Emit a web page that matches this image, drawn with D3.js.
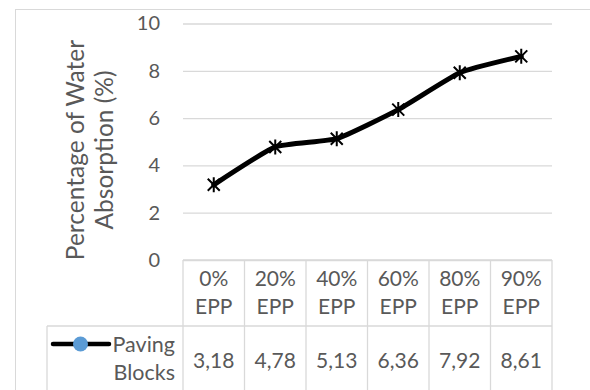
<!DOCTYPE html>
<html>
<head>
<meta charset="utf-8">
<script src="https://cdn.jsdelivr.net/npm/d3@7"></script>
<style>
  html, body { margin: 0; padding: 0; background: #ffffff; }
  svg { display: block; }
  text { font-family: Lato, "Noto Sans", sans-serif; fill: #595959; }
</style>
</head>
<body>
<svg id="chart" width="590" height="390"></svg>
<script>
// Water absorption of paving blocks by EPP content
const categories = ["0% EPP", "20% EPP", "40% EPP", "60% EPP", "80% EPP", "90% EPP"];
const absorption = [3.18, 4.78, 5.13, 6.36, 7.92, 8.61];
const seriesName = ["Paving", "Blocks"];
const yTicks = [0, 2, 4, 6, 8, 10];
const yTitle = ["Percentage of Water", "Absorption (%)"];

const svg = d3.select("#chart");
const grid = "#d9d9d9";
const cellFont = "21px";

const plot = { left: 183, right: 552, top: 23.5, bottom: 260 };
const headerBottom = 326;
const legendLeft = 47;

const x = d3.scaleBand().domain(categories).range([plot.left, plot.right]).paddingInner(0).paddingOuter(0);
const y = d3.scaleLinear().domain([0, 10]).range([plot.bottom, plot.top]);
const cx = d => x(d) + x.bandwidth() / 2;

// chart area border
svg.append("rect")
  .attr("x", 15.5).attr("y", 9.5).attr("width", 600).attr("height", 400)
  .attr("fill", "none").attr("stroke", grid).attr("stroke-width", 1);

// y axis: gridlines and labels
const yAxis = d3.axisLeft(y).tickValues(yTicks).tickSize(-(plot.right - plot.left)).tickPadding(23).tickFormat(d3.format("d"));
const gy = svg.append("g").attr("transform", `translate(${plot.left},0)`).call(yAxis);
gy.select(".domain").remove();
gy.selectAll(".tick line").attr("stroke", grid).attr("stroke-width", 1.3);
gy.selectAll(".tick text").attr("fill", "#595959").style("font-size", "20px")
  .style("font-family", "Lato, 'Noto Sans', sans-serif");

// axis title, two rotated lines
yTitle.forEach((t, i) => {
  svg.append("text")
    .attr("transform", `translate(${84 + i * 29},150) rotate(-90)`)
    .attr("text-anchor", "middle")
    .style("font-size", "24.5px")
    .text(t);
});

// data table below the plot
const table = svg.append("g").attr("stroke", grid).attr("stroke-width", 1.3).attr("fill", "none");
table.append("line").attr("x1", plot.left).attr("x2", plot.right).attr("y1", plot.bottom).attr("y2", plot.bottom);
table.append("line").attr("x1", legendLeft).attr("x2", plot.right).attr("y1", headerBottom).attr("y2", headerBottom);
table.append("line").attr("x1", legendLeft).attr("x2", legendLeft).attr("y1", headerBottom).attr("y2", 400);
const edges = categories.map(c => x(c)).concat([plot.right]);
edges.forEach(e => {
  table.append("line").attr("x1", e).attr("x2", e).attr("y1", plot.bottom).attr("y2", 400);
});

// header cells
categories.forEach(c => {
  const parts = c.split(" ");
  svg.append("text").attr("x", cx(c)).attr("y", 286).attr("text-anchor", "middle")
    .style("font-size", cellFont).text(parts[0]);
  svg.append("text").attr("x", cx(c)).attr("y", 313.5).attr("text-anchor", "middle")
    .style("font-size", cellFont).text(parts[1]);
});

// value cells
const fmt = v => d3.format(".2f")(v).replace(".", ",");
absorption.forEach((v, i) => {
  svg.append("text").attr("x", cx(categories[i])).attr("y", 368).attr("text-anchor", "middle")
    .style("font-size", cellFont).text(fmt(v));
});

// legend key in the table
svg.append("line").attr("x1", 53).attr("x2", 109).attr("y1", 344).attr("y2", 344)
  .attr("stroke", "#000").attr("stroke-width", 4.5).attr("stroke-linecap", "round");
svg.append("circle").attr("cx", 80.5).attr("cy", 344).attr("r", 7.5).attr("fill", "#5b9bd5");
seriesName.forEach((t, i) => {
  svg.append("text").attr("x", 175).attr("y", 351.5 + i * 28.5).attr("text-anchor", "end")
    .style("font-size", "21.5px").text(t);
});

// lightly smoothed series line
const line = d3.line()
  .x((d, i) => cx(categories[i]))
  .y(d => y(d))
  .curve(d3.curveCardinal.tension(0.55));
svg.append("path").datum(absorption)
  .attr("d", line).attr("fill", "none").attr("stroke", "#000")
  .attr("stroke-width", 5).attr("stroke-linejoin", "round").attr("stroke-linecap", "round");

// star markers
const s = 6;
const star = `M${-s},${-s}L${s},${s}M${-s},${s}L${s},${-s}M0,${-s - 1.5}L0,${s + 1.5}`;
svg.append("g").selectAll("path").data(absorption).join("path")
  .attr("transform", (d, i) => `translate(${cx(categories[i])},${y(d)})`)
  .attr("d", star).attr("stroke", "#000").attr("stroke-width", 2).attr("fill", "none");
</script>
</body>
</html>
